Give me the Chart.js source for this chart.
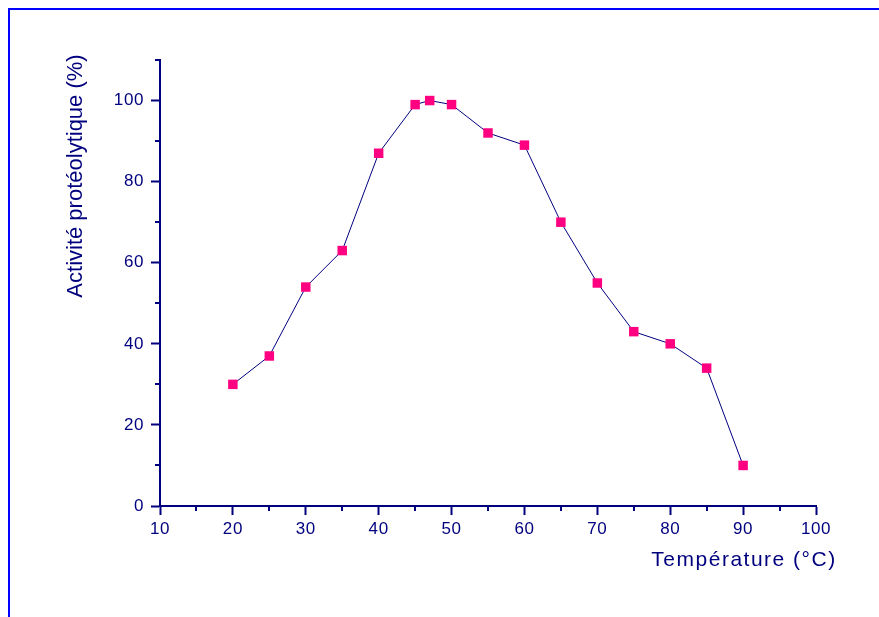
<!DOCTYPE html>
<html>
<head>
<meta charset="utf-8">
<script src="https://cdn.jsdelivr.net/npm/chart.js@4/dist/chart.umd.min.js"></script>
<style>
  body { margin: 0; background: #ffffff; }
  canvas { display: block; }
</style>
</head>
<body>
<canvas id="chart" width="879" height="617"></canvas>
<script>
// Température (°C) vs activité protéolytique (%)
const temperatures = [20, 25, 30, 35, 40, 45, 47, 50, 55, 60, 65, 70, 75, 80, 85, 90];
const activity = [30, 37, 54, 63, 87, 99, 100, 99, 92, 89, 70, 55, 43, 40, 34, 10];

const xTitle = 'Température (°C)';
const yTitle = 'Activité protéolytique (%)';

const navy = '#00007f';
const frameBlue = '#0000ff';
const markerPink = 'rgb(255, 0, 128)';

// frame, minor ticks and axis titles
const extras = {
    id: 'extras',
    beforeDraw(chart) {
        const ctx = chart.ctx;
        ctx.save();
        ctx.strokeStyle = frameBlue;
        ctx.lineWidth = 2;
        ctx.beginPath();
        ctx.moveTo(9, chart.height);
        ctx.lineTo(9, 9);
        ctx.lineTo(chart.width, 9);
        ctx.stroke();
        ctx.restore();
        // the original's tick font is a touch wider than Arial
        ctx.letterSpacing = '0.6px';
    },
    afterDraw(chart) {
        const ctx = chart.ctx;
        const area = chart.chartArea;
        const xs = chart.scales.x;
        const ys = chart.scales.y;
        ctx.save();
        ctx.strokeStyle = navy;
        ctx.lineWidth = 2;
        ctx.beginPath();
        const xt = xs.ticks.map(t => t.value);
        for (let i = 0; i < xt.length - 1; i++) {
            const px = Math.round(xs.getPixelForValue((xt[i] + xt[i + 1]) / 2));
            ctx.moveTo(px, area.bottom);
            ctx.lineTo(px, area.bottom + 5);
        }
        const yt = ys.ticks.map(t => t.value);
        for (let i = 0; i < yt.length; i++) {
            const v = yt[i] + 10;
            if (v > ys.max) break;
            const py = Math.round(ys.getPixelForValue(v));
            ctx.moveTo(area.left, py);
            ctx.lineTo(area.left - 5, py);
        }
        ctx.stroke();

        ctx.fillStyle = navy;
        ctx.font = '21px "Liberation Sans", Arial, sans-serif';
        ctx.letterSpacing = '1.5px';
        ctx.textAlign = 'center';
        ctx.textBaseline = 'alphabetic';
        ctx.fillText(xTitle, 744, 566);

        ctx.letterSpacing = '0px';
        ctx.font = '22px "Liberation Sans", Arial, sans-serif';
        ctx.translate(76, 176);
        ctx.rotate(-Math.PI / 2);
        ctx.textBaseline = 'middle';
        ctx.fillText(yTitle, 0, 0);
        ctx.restore();
        ctx.letterSpacing = '0px';
    }
};

new Chart(document.getElementById('chart').getContext('2d'), {
    type: 'line',
    data: {
        datasets: [{
            data: temperatures.map((t, i) => ({ x: t, y: activity[i] })),
            borderColor: navy,
            borderWidth: 1,
            tension: 0,
            fill: false,
            pointStyle: 'rect',
            pointRadius: 6.7,
            pointHoverRadius: 6.7,
            pointBackgroundColor: markerPink,
            pointBorderWidth: 0
        }]
    },
    options: {
        responsive: false,
        animation: false,
        events: [],
        layout: { padding: { top: 60, right: 63, left: 0, bottom: 0 } },
        plugins: {
            legend: { display: false },
            tooltip: { enabled: false }
        },
        scales: {
            x: {
                type: 'linear',
                min: 10,
                max: 100,
                afterFit(scale) { scale.height = 111; },
                border: { color: navy, width: 2 },
                grid: { drawOnChartArea: false, drawTicks: true, tickLength: 9, tickColor: navy, tickWidth: 2 },
                ticks: {
                    stepSize: 10,
                    color: navy,
                    padding: 4,
                    maxRotation: 0,
                    font: { family: '"Liberation Sans", Arial, sans-serif', size: 17 }
                }
            },
            y: {
                type: 'linear',
                min: 0,
                max: 110,
                afterFit(scale) { scale.width = 160; },
                border: { color: navy, width: 2 },
                grid: { drawOnChartArea: false, drawTicks: true, tickLength: 9, tickColor: navy, tickWidth: 2 },
                ticks: {
                    stepSize: 20,
                    includeBounds: false,
                    color: navy,
                    padding: 7,
                    font: { family: '"Liberation Sans", Arial, sans-serif', size: 17 }
                }
            }
        }
    },
    plugins: [extras]
});
</script>
</body>
</html>
